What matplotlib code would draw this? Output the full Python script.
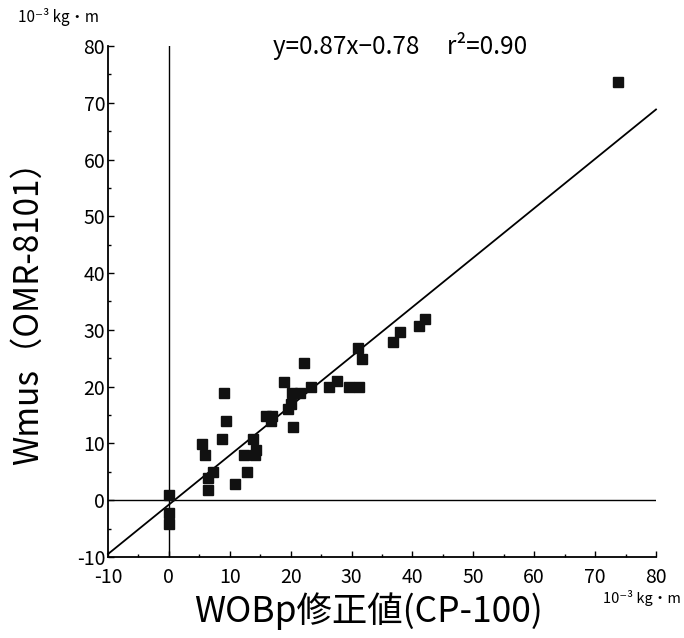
import matplotlib
matplotlib.use("Agg")
import matplotlib.pyplot as plt
import numpy as np
from matplotlib.ticker import MultipleLocator

plt.rcParams['font.family'] = ['Noto Sans CJK JP', 'DejaVu Sans']

x_vals = [0, 0, 0, 5.5, 5.9, 6.4, 6.4, 7.3, 9.1, 9.3, 8.8, 10.8, 12.3, 12.8,
          13.8, 14.3, 14.1, 15.9, 17.0, 16.7, 18.9, 19.6, 20.0, 20.3, 20.4,
          21.6, 22.2, 23.3, 26.3, 27.6, 29.6, 31.2, 31.0, 31.7, 36.8, 37.9,
          41.0, 42.1, 73.7]
y_vals = [1, -2.2, -4.1, 9.9, 8.0, 4.0, 1.8, 4.9, 18.8, 13.9, 10.7, 2.8, 8.0, 4.9,
          10.7, 8.9, 8.0, 14.8, 14.8, 13.9, 20.9, 16.0, 16.9, 18.8, 12.9,
          18.8, 24.1, 20.0, 20.0, 21.0, 20.0, 20.0, 26.8, 24.8, 27.9, 29.7,
          30.7, 31.9, 73.6]
slope, intercept = 0.87, -0.78
tick_vals = list(range(-10, 81, 10))

fig = plt.figure(figsize=(6.84, 6.38), dpi=100)
ax = fig.add_axes([108/684, 1-557/638, (656-108)/684, (557-46)/638])
ax.set_xlim(-10, 80)
ax.set_ylim(-10, 80)

ax.axvline(0, color='black', lw=1.0)
ax.axhline(0, color='black', lw=1.0)
xl = np.array([-10, 80])
ax.plot(xl, slope*xl + intercept, color='black', lw=1.3, clip_on=False)
ax.plot(x_vals, y_vals, 's', color='#111111', ms=6.5, clip_on=False)

for s in ['top', 'right']:
    ax.spines[s].set_visible(False)
for s in ['left', 'bottom']:
    ax.spines[s].set_linewidth(1.3)

ax.set_xticks(tick_vals)
ax.set_yticks(tick_vals)
ax.set_xticklabels([str(v) for v in tick_vals], fontsize=14)
ax.set_yticklabels([str(v) for v in tick_vals], fontsize=14)
ax.xaxis.set_minor_locator(MultipleLocator(5))
ax.yaxis.set_minor_locator(MultipleLocator(5))
ax.tick_params(which='major', direction='in', length=4, width=1)
ax.tick_params(which='minor', direction='in', length=2.5, width=1)
ax.tick_params(axis='x', which='major', pad=7.5)
ax.tick_params(axis='y', which='major', pad=2)

fig.text(400/684, 1-46/638, 'y=0.87x\u22120.78     r²=0.90',
         ha='center', va='center', fontsize=17.5)

fig.text(368/684, 1-611/638, 'WOBp修正値(CP-100)', ha='center', va='center', fontsize=25.5)
fig.text(28/684, 1-305/638, 'Wmus（OMR-8101）', ha='center', va='center', fontsize=24, rotation=90)
fig.text(18/684, 1-17/638, '10⁻³ kg・m', ha='left', va='center', fontsize=11)
fig.text(603/684, 1-598/638, '10⁻³ kg・m', ha='left', va='center', fontsize=10.5)

fig.savefig('out.png', dpi=100)
